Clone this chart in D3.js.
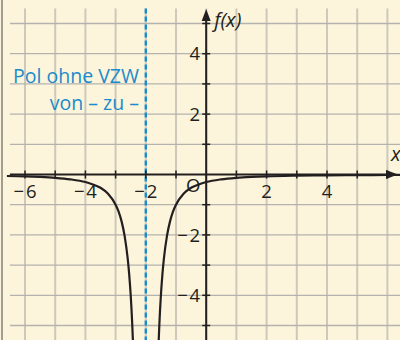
<!DOCTYPE html>
<html>
<head>
<meta charset="utf-8">
<script src="https://cdn.jsdelivr.net/npm/d3@7"></script>
<style>
  html, body { margin: 0; padding: 0; background: #fcf5dc; }
  svg { display: block; }
</style>
</head>
<body>
<svg id="chart" width="400" height="340"></svg>
<script>
// Graph of a function with a pole at x = -2 (no sign change)
const xTicks = [-6, -5, -4, -3, -2, -1, 0, 1, 2, 3, 4, 5, 6];
const yTicks = [-5, -4, -3, -2, -1, 0, 1, 2, 3, 4, 5];
const xTickLabels = [-6, -4, -2, 2, 4];
const yTickLabels = [4, 2, -2, -4];
const poleX = -2;

// left branch (x < -2)
const leftX = [-6.6, -6, -5.5, -5, -4.5, -4, -3.75, -3.5, -3.25, -3, -2.9, -2.8, -2.7, -2.6, -2.55, -2.5, -2.45, -2.42];
const leftY = [-0.05, -0.06, -0.08, -0.11, -0.16, -0.25, -0.33, -0.44, -0.64, -1, -1.23, -1.56, -2.04, -2.78, -3.31, -4, -4.94, -5.67];
// right branch (x > -2)
const rightX = [-1.58, -1.55, -1.5, -1.45, -1.4, -1.3, -1.2, -1.1, -1, -0.75, -0.5, -0.25, 0, 0.5, 1, 1.5, 2, 3, 4, 5, 6, 6.5];
const rightY = [-5.67, -4.94, -4, -3.31, -2.78, -2.04, -1.56, -1.23, -1, -0.64, -0.44, -0.33, -0.25, -0.16, -0.11, -0.08, -0.06, -0.04, -0.03, -0.02, -0.016, -0.014];

const svg = d3.select("#chart");
const W = 400, H = 340;

const x = d3.scaleLinear().domain([-6, 6]).range([25, 387.4]);
const y = d3.scaleLinear().domain([-5, 5]).range([325.5, 23.5]);

const ink = "#231f20";
const blue = "#1a8bcb";

// frame edge on the left
svg.append("line").attr("x1", 2).attr("x2", 2).attr("y1", 0).attr("y2", H)
  .attr("stroke", "#8a8780").attr("stroke-width", 1.6);

// grid
const grid = svg.append("g");
grid.selectAll("line.v").data(xTicks).join("line")
  .attr("class", "v")
  .attr("x1", d => x(d)).attr("x2", d => x(d))
  .attr("y1", y(5.5)).attr("y2", H)
  .attr("stroke", "#cdc8bb").attr("stroke-width", 2);
grid.selectAll("line.h").data(yTicks.filter(d => d !== 0)).join("line")
  .attr("class", "h")
  .attr("x1", x(-6.5)).attr("x2", W)
  .attr("y1", d => y(d)).attr("y2", d => y(d))
  .attr("stroke", "#b4b2ac").attr("stroke-width", 1.3);

// pole asymptote
svg.append("line")
  .attr("x1", x(poleX)).attr("x2", x(poleX))
  .attr("y1", y(5.5)).attr("y2", H)
  .attr("stroke", blue).attr("stroke-width", 2.4)
  .attr("stroke-dasharray", "5,3");

// axes
svg.append("line").attr("x1", x(-6.5)).attr("x2", 390)
  .attr("y1", y(0)).attr("y2", y(0)).attr("stroke", ink).attr("stroke-width", 2);
svg.append("path")
  .attr("d", `M${398},${y(0)} L${386},${y(0) - 4.5} L${386},${y(0) + 4.5} Z`)
  .attr("fill", ink);
svg.append("line").attr("x1", x(0)).attr("x2", x(0))
  .attr("y1", H).attr("y2", 20).attr("stroke", ink).attr("stroke-width", 2);
svg.append("path")
  .attr("d", `M${x(0)},${9} L${x(0) - 4.5},${21} L${x(0) + 4.5},${21} Z`)
  .attr("fill", ink);

// tick marks on the axes
svg.append("g").selectAll("line").data(xTicks.filter(d => d !== 0)).join("line")
  .attr("x1", d => x(d)).attr("x2", d => x(d))
  .attr("y1", y(0) - 4).attr("y2", y(0) + 4)
  .attr("stroke", ink).attr("stroke-width", 1.5);
svg.append("g").selectAll("line").data(yTicks.filter(d => d !== 0)).join("line")
  .attr("x1", x(0) - 4).attr("x2", x(0) + 4)
  .attr("y1", d => y(d)).attr("y2", d => y(d))
  .attr("stroke", ink).attr("stroke-width", 1.5);

const font = "'Open Sans', 'Noto Sans', sans-serif";
const fmt = d => (d < 0 ? "\u2212\u200A" : "") + Math.abs(d);

// tick labels
svg.append("g").selectAll("text").data(xTickLabels).join("text")
  .attr("x", d => x(d)).attr("y", y(0) + 23)
  .attr("text-anchor", "middle")
  .attr("font-family", font).attr("font-size", 18.5).attr("fill", ink)
  .text(fmt);
svg.append("g").selectAll("text").data(yTickLabels).join("text")
  .attr("x", x(0) - 6).attr("y", d => y(d))
  .attr("dy", "0.36em")
  .attr("text-anchor", "end")
  .attr("font-family", font).attr("font-size", 18.5).attr("fill", ink)
  .text(fmt);
svg.append("text")
  .attr("x", x(0) - 13).attr("y", y(0) + 17)
  .attr("text-anchor", "middle")
  .attr("font-family", font).attr("font-size", 18.5).attr("fill", ink)
  .text("O");

// axis titles
svg.append("text").attr("x", x(0) + 8).attr("y", 27)
  .attr("font-family", font).attr("font-size", 20).attr("font-style", "italic")
  .attr("fill", ink).text("f(x)");
svg.append("text").attr("x", 391).attr("y", 161)
  .attr("font-family", font).attr("font-size", 20).attr("font-style", "italic")
  .attr("fill", ink).text("x");

// annotation
const note = svg.append("text")
  .attr("text-anchor", "end")
  .attr("font-family", font).attr("font-size", 19.5).attr("fill", blue);
note.append("tspan").attr("x", 139).attr("y", 83).text("Pol ohne VZW");
note.append("tspan").attr("x", 139).attr("y", 110).text("von \u2013 zu \u2013");

// function branches, clipped to the drawing area
svg.append("clipPath").attr("id", "plot")
  .append("rect").attr("x", 0).attr("y", 0).attr("width", W).attr("height", H);
const line = d3.line().x(d => x(d[0])).y(d => y(d[1])).curve(d3.curveMonotoneX);
const branches = [d3.zip(leftX, leftY), d3.zip(rightX, rightY)];
svg.append("g").attr("clip-path", "url(#plot)")
  .selectAll("path").data(branches).join("path")
  .attr("d", line)
  .attr("fill", "none").attr("stroke", ink).attr("stroke-width", 2.2);
</script>
</body>
</html>
